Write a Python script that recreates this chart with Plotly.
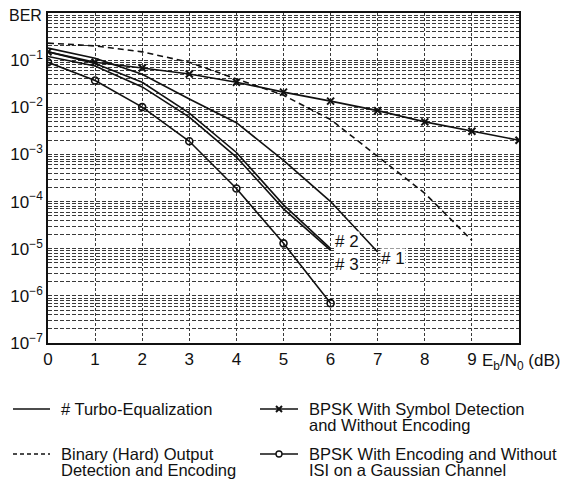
import plotly.graph_objects as go

# ---- data ----
ebn0_bpsk = [0, 1, 2, 3, 4, 5, 6, 7, 8, 9, 10]
ber_bpsk_symbol = [0.15, 0.09, 0.068, 0.051, 0.034, 0.021, 0.0135, 0.0085, 0.0049, 0.0031, 0.002]

ebn0_hard = [0, 1, 2, 3, 4, 5, 6, 7, 8, 9]
ber_hard = [0.23, 0.2, 0.15, 0.09, 0.04, 0.018, 0.0055, 0.0009, 0.00015, 0.000015]

ebn0_turbo1 = [0, 1, 2, 3, 4, 5, 6, 7]
ber_turbo1 = [0.18, 0.11, 0.05, 0.015, 0.0047, 0.00075, 0.0001, 0.0000085]

ebn0_turbo2 = [0, 1, 2, 3, 4, 5, 6]
ber_turbo2 = [0.15, 0.085, 0.034, 0.0075, 0.0011, 0.000085, 0.00001]

ebn0_turbo3 = [0, 1, 2, 3, 4, 5, 6]
ber_turbo3 = [0.12, 0.075, 0.027, 0.0062, 0.00088, 0.00007, 0.0000092]

ebn0_gauss = [0, 1, 2, 3, 4, 5, 6]
ber_gauss = [0.09, 0.037, 0.0101, 0.0019, 0.00019, 0.000013, 0.0000007]

x_ticks = [0, 1, 2, 3, 4, 5, 6, 7, 8, 9]
y_ticks = [1e-7, 1e-6, 1e-5, 1e-4, 1e-3, 1e-2, 1e-1]
y_ticktext = ["10<sup>−7</sup>", "10<sup>−6</sup>", "10<sup>−5</sup>", "10<sup>−4</sup>",
              "10<sup>−3</sup>", "10<sup>−2</sup>", "10<sup>−1</sup>"]

legend_turbo = ["# Turbo-Equalization"]
legend_bpsk = ["BPSK With Symbol Detection", "and Without Encoding"]
legend_hard = ["Binary (Hard) Output", "Detection and Encoding"]
legend_gauss = ["BPSK With Encoding and Without", "ISI on a Gaussian Channel"]

curve_labels = [("# 2", 6.08, -4.84), ("# 3", 6.08, -5.33), ("# 1", 7.05, -5.2)]

FONT = "Liberation Sans, Arial, sans-serif"
BLACK = "#111111"
GRID = "#3a3a3a"

# the page adds an 8px body margin, so the figure is drawn 8px smaller and all
# reference pixel positions are shifted by that amount
OFF = 8
W, H = 570 - OFF, 479 - OFF
ML, MR, MT, MB = 48 - OFF, 51, 13 - OFF, 136
PW, PH = W - ML - MR, H - MT - MB


def px(xp):
    return (xp - OFF - ML) / PW


def py(yp):
    return (H - MB - (yp - OFF)) / PH


fig = go.Figure()

line_style = dict(color=BLACK, width=1.6)
fig.add_trace(go.Scatter(x=ebn0_turbo1, y=ber_turbo1, mode="lines", name="# 1", line=line_style))
fig.add_trace(go.Scatter(x=ebn0_turbo2, y=ber_turbo2, mode="lines", name="# 2", line=line_style))
fig.add_trace(go.Scatter(x=ebn0_turbo3, y=ber_turbo3, mode="lines", name="# 3", line=line_style))
fig.add_trace(go.Scatter(x=ebn0_bpsk, y=ber_bpsk_symbol, mode="lines+markers",
                         name="BPSK With Symbol Detection and Without Encoding",
                         line=line_style,
                         marker=dict(symbol="x-thin-open", size=7, line=dict(color=BLACK, width=2))))
fig.add_trace(go.Scatter(x=ebn0_hard, y=ber_hard, mode="lines",
                         name="Binary (Hard) Output Detection and Encoding",
                         line=dict(color=BLACK, width=1.6, dash="6px,4px")))
fig.add_trace(go.Scatter(x=ebn0_gauss, y=ber_gauss, mode="lines+markers",
                         name="BPSK With Encoding and Without ISI on a Gaussian Channel",
                         line=line_style,
                         marker=dict(symbol="circle-open", size=7, color=BLACK, line=dict(width=1.6))))

for txt, xx, ly in curve_labels:
    fig.add_annotation(x=xx, y=ly, xref="x", yref="y", text=txt, showarrow=False,
                       xanchor="left", yanchor="middle", font=dict(size=17, color=BLACK, family=FONT),
                       bgcolor="white", borderpad=0)

fig.add_annotation(x=px(7), y=py(16), xref="paper", yref="paper", text="BER", showarrow=False,
                   xanchor="left", yanchor="middle", font=dict(size=16, color=BLACK, family=FONT))
fig.add_annotation(x=px(480), y=py(362), xref="paper", yref="paper",
                   text="E<sub>b</sub>/N<sub>0</sub> (dB)", showarrow=False,
                   xanchor="left", yanchor="middle", font=dict(size=17, color=BLACK, family=FONT))

# ---- hand-built legend (two columns, multi-line entries) ----
legend_rows = [
    (13, 50, 409, legend_turbo, "solid", None),
    (260, 298, 409, legend_bpsk, "solid", "x"),
    (13, 50, 454, legend_hard, "dash", None),
    (260, 298, 454, legend_gauss, "solid", "o"),
]
for x0, x1, yc, lines, dash, mark in legend_rows:
    fig.add_shape(type="line", xref="paper", yref="paper", x0=px(x0), x1=px(x1),
                  y0=py(yc), y1=py(yc), line=dict(color=BLACK, width=1.6,
                                                   dash="4px,3px" if dash == "dash" else "solid"))
    xm = (x0 + x1) / 2
    if mark == "o":
        fig.add_shape(type="circle", xref="paper", yref="paper", xsizemode="pixel",
                      ysizemode="pixel", xanchor=px(xm), yanchor=py(yc), x0=-3, x1=3, y0=-3, y1=3,
                      line=dict(color=BLACK, width=1.4), fillcolor="white")
    elif mark == "x":
        for s in (1, -1):
            fig.add_shape(type="line", xref="paper", yref="paper", xsizemode="pixel",
                          ysizemode="pixel", xanchor=px(xm), yanchor=py(yc),
                          x0=-3, x1=3, y0=-3 * s, y1=3 * s, line=dict(color=BLACK, width=2))
    for i, t in enumerate(lines):
        fig.add_annotation(x=px(x1 + 9), y=py(yc + 15.5 * i), xref="paper", yref="paper",
                           text=t, showarrow=False, xanchor="left", yanchor="middle",
                           font=dict(size=16.5, color=BLACK, family=FONT))

fig.update_xaxes(range=[0, 10], tickvals=x_ticks, showgrid=True, gridcolor=GRID,
                 gridwidth=1, griddash="3px,2px", showline=True, mirror=True, linecolor=BLACK,
                 linewidth=1.6, ticks="", zeroline=False,
                 tickfont=dict(size=17, color=BLACK, family=FONT))
fig.update_yaxes(type="log", range=[-7, 0], tickvals=y_ticks, ticktext=y_ticktext,
                 showgrid=True, gridcolor=GRID, gridwidth=1, griddash="4px,2px",
                 minor=dict(dtick="D1", showgrid=True, gridcolor=GRID, gridwidth=1,
                            griddash="4px,2px", ticks=""),
                 showline=True, mirror=True, linecolor=BLACK, linewidth=1.6, ticks="",
                 zeroline=False, tickfont=dict(size=17, color=BLACK, family=FONT))

fig.update_layout(
    width=W, height=H,
    margin=dict(l=ML, r=MR, t=MT, b=MB, autoexpand=False),
    plot_bgcolor="white", paper_bgcolor="white",
    font=dict(family=FONT, color=BLACK, size=15),
    showlegend=False,
)

fig.write_html("out.html")
